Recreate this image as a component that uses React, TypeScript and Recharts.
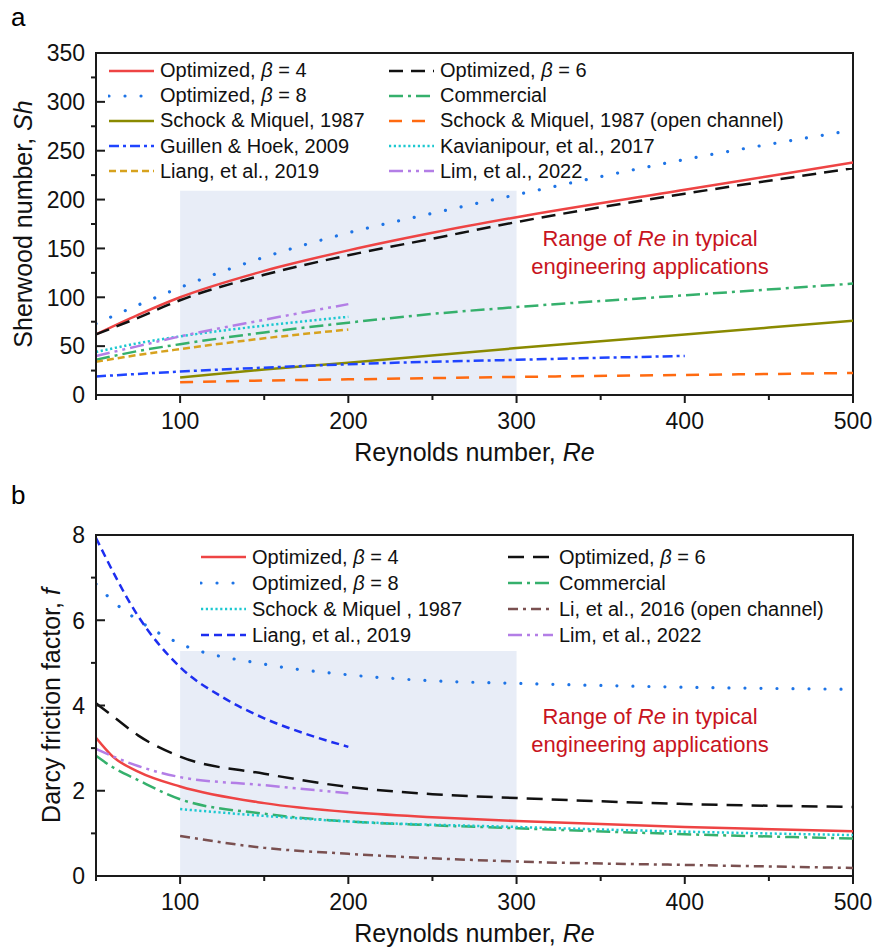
import React from "react";
import { LineChart, Line, XAxis, YAxis, ReferenceArea, Legend } from "recharts";

const FONT = '"Liberation Sans", Arial, sans-serif';
const AXIS = "#1a1a1a";

// ---- panel a: Sherwood number vs Re ----
const shReFull = [50, 75, 100, 150, 200, 250, 300, 400, 500];
const shOpt4 = [62, 82, 100, 127, 148, 166, 182, 210, 238];
const shOpt6 = [62, 79, 97, 123, 143, 160, 177, 206, 232];
const shOpt8 = [73, 92, 110, 141, 166, 186, 205, 241, 271];
const shCommercial = [36, 45, 52, 64, 74, 83, 90, 102, 114];
const shReSchock = [100, 150, 200, 300, 400, 500];
const shSchock = [18, 26, 33, 48, 62, 76];
const shSchockOpen = [13, 14.8, 16, 18.5, 20.5, 22.5];
const shReGuillen = [50, 100, 150, 200, 300, 400];
const shGuillen = [19, 24, 28, 31.5, 36, 40];
const shReShort = [50, 75, 100, 150, 200];
const shKavianipour = [44, 53, 60, 71, 80];
const shLiang = [34, 41, 47, 58, 67];
const shLim = [40, 50, 60, 77, 93];

// ---- panel b: Darcy friction factor vs Re ----
const fReFull = [50, 60, 75, 100, 150, 200, 250, 300, 400, 500];
const fOpt4 = [3.24, 2.8, 2.45, 2.1, 1.71, 1.5, 1.38, 1.29, 1.15, 1.05];
const fOpt6 = [4.05, 3.75, 3.3, 2.8, 2.4, 2.09, 1.92, 1.83, 1.69, 1.62];
const fOpt8 = [6.85, 6.45, 6.0, 5.45, 4.97, 4.72, 4.58, 4.52, 4.43, 4.38];
const fCommercial = [2.82, 2.55, 2.25, 1.8, 1.46, 1.28, 1.19, 1.12, 0.98, 0.88];
const fReLiang = [50, 75, 100, 125, 150, 175, 200];
const fLiang = [7.93, 6.1, 4.9, 4.2, 3.7, 3.33, 3.03];
const fReHigh = [100, 150, 200, 300, 400, 500];
const fSchock = [1.57, 1.41, 1.28, 1.15, 1.04, 0.96];
const fLi = [0.94, 0.66, 0.52, 0.34, 0.26, 0.19];
const fReLim = [50, 75, 100, 150, 200];
const fLim = [2.98, 2.58, 2.32, 2.13, 1.94];

const xTicks = [50, 100, 150, 200, 250, 300, 350, 400, 450, 500];
const shTicks = [0, 25, 50, 75, 100, 125, 150, 175, 200, 225, 250, 275, 300, 325, 350];
const fTicks = [0, 1, 2, 3, 4, 5, 6, 7, 8];

const pts = (xs: number[], ys: number[]) => xs.map((re, i) => ({ re, v: ys[i] }));

type Style = { color: string; dash?: string; w?: number; cap?: "round" | "butt" };
const S = {
  opt4: { color: "#ee4444" },
  opt6: { color: "#111111", dash: "14 8" },
  opt8: { color: "#1e74e6", dash: "0.01 16", w: 3.2, cap: "round" },
  commercial: { color: "#35b06c", dash: "14 5 3 5" },
  schock: { color: "#8a8a00" },
  schockOpen: { color: "#ff6a10", dash: "13 10" },
  guillen: { color: "#1f44ff", dash: "10 4 3 4" },
  kavi: { color: "#1cc8d0", dash: "2.2 2.6" },
  liang: { color: "#d7a21e", dash: "7 4" },
  lim: { color: "#b37ee6", dash: "14 5 3 5 3 5" },
  li: { color: "#7a5050", dash: "10 5 3 5" },
  liangF: { color: "#1d2ef0", dash: "8 5" },
  opt6F: { color: "#111111", dash: "16 9" },
} as Record<string, Style>;

function series(key: string, data: { re: number; v: number }[], st: Style) {
  return (
    <Line
      key={key}
      data={data}
      dataKey="v"
      type="monotone"
      stroke={st.color}
      strokeWidth={st.w ?? 2.5}
      strokeDasharray={st.dash}
      strokeLinecap={st.cap ?? "butt"}
      dot={false}
      activeDot={false}
      isAnimationActive={false}
    />
  );
}

const makeYTick = (isMajor: (v: number) => boolean) => (props: any) => {
  const { x, y, payload } = props;
  const v = payload.value;
  if (!isMajor(v)) return <line x1={x - 5} x2={x} y1={y} y2={y} stroke={AXIS} strokeWidth={2} />;
  return (
    <g>
      <line x1={x} x2={x + 9} y1={y} y2={y} stroke={AXIS} strokeWidth={2} />
      <text x={x - 11} y={y} dy="0.36em" textAnchor="end" fontSize={23} fontFamily={FONT} fill="#111">
        {v}
      </text>
    </g>
  );
};

const XTick = (props: any) => {
  const { x, y, payload } = props;
  const v = payload.value;
  const major = v % 100 === 0;
  return (
    <g>
      <line x1={x} x2={x} y1={y} y2={y + (major ? 8 : 5)} stroke={AXIS} strokeWidth={2} />
      {major && (
        <text x={x} y={y + 34} textAnchor="middle" fontSize={23} fontFamily={FONT} fill="#111">
          {v}
        </text>
      )}
    </g>
  );
};

const xTitle = (p: any) => {
  const vb = p.viewBox;
  return (
    <text x={vb.x + vb.width / 2} y={vb.y + 66} textAnchor="middle" fontSize={25} fontFamily={FONT} fill="#111">
      Reynolds number, <tspan fontStyle="italic">Re</tspan>
    </text>
  );
};

const yTitle = (text: string, sym: string, cx: number) => (p: any) => {
  const vb = p.viewBox;
  const cy = vb.y + vb.height / 2;
  return (
    <text
      x={cx}
      y={cy}
      transform={`rotate(-90 ${cx} ${cy})`}
      textAnchor="middle"
      fontSize={25}
      fontFamily={FONT}
      fill="#111"
    >
      {text}
      <tspan fontStyle="italic">{sym}</tspan>
    </text>
  );
};

type LItem = { label: React.ReactNode; st: Style };
const beta = (n: number) => (
  <>
    Optimized, <i>β</i> = {n}
  </>
);

const legendA: LItem[] = [
  { label: beta(4), st: S.opt4 },
  { label: beta(6), st: S.opt6 },
  { label: beta(8), st: S.opt8 },
  { label: "Commercial", st: S.commercial },
  { label: "Schock & Miquel, 1987", st: S.schock },
  { label: "Schock & Miquel, 1987 (open channel)", st: S.schockOpen },
  { label: "Guillen & Hoek, 2009", st: S.guillen },
  { label: "Kavianipour, et al., 2017", st: S.kavi },
  { label: "Liang, et al., 2019", st: S.liang },
  { label: "Lim, et al., 2022", st: S.lim },
];

const legendB: LItem[] = [
  { label: beta(4), st: S.opt4 },
  { label: beta(6), st: S.opt6F },
  { label: beta(8), st: S.opt8 },
  { label: "Commercial", st: S.commercial },
  { label: "Schock & Miquel , 1987", st: S.kavi },
  { label: "Li, et al., 2016 (open channel)", st: S.li },
  { label: "Liang, et al., 2019", st: S.liangF },
  { label: "Lim, et al., 2022", st: S.lim },
];

const LegendBox = ({ items, cols, rowH }: { items: LItem[]; cols: number[]; rowH: number }) => (
  <div style={{ position: "relative", fontFamily: FONT, fontSize: 20, color: "#111" }}>
    {items.map((it, i) => (
      <div
        key={i}
        style={{
          position: "absolute",
          left: cols[i % 2],
          top: Math.floor(i / 2) * rowH,
          height: rowH,
          display: "flex",
          alignItems: "center",
          whiteSpace: "nowrap",
        }}
      >
        <svg width={47} height={10} style={{ marginRight: 5 }}>
          <line
            x1={1}
            x2={46}
            y1={5}
            y2={5}
            stroke={it.st.color}
            strokeWidth={it.st.w ?? 2.5}
            strokeDasharray={it.st.dash}
            strokeLinecap={it.st.cap ?? "butt"}
          />
        </svg>
        <span>{it.label}</span>
      </div>
    ))}
  </div>
);

const note: React.CSSProperties = {
  position: "absolute",
  fontFamily: FONT,
  fontSize: 22,
  color: "#c8141e",
  textAlign: "center",
  lineHeight: "28px",
  width: 300,
};

export default function App() {
  return (
    <div style={{ position: "absolute", left: 0, top: 0, width: 875, height: 948, background: "#fff" }}>
      <div style={{ position: "absolute", left: 11, top: 2, fontFamily: FONT, fontSize: 26 }}>a</div>
      <div style={{ position: "absolute", left: 11, top: 480, fontFamily: FONT, fontSize: 26 }}>b</div>

      <div style={{ position: "absolute", left: 0, top: 0 }}>
        <LineChart width={875} height={470} margin={{ top: 53, right: 22, bottom: 35, left: 46 }}>
          <XAxis
            dataKey="re"
            type="number"
            domain={[50, 500]}
            ticks={xTicks}
            interval={0}
            allowDataOverflow
            height={40}
            tickSize={0}
            tickMargin={0}
            tick={XTick}
            axisLine={{ stroke: AXIS, strokeWidth: 2 }}
            label={{ content: xTitle }}
          />
          <YAxis
            type="number"
            domain={[0, 350]}
            ticks={shTicks}
            interval={0}
            allowDataOverflow
            width={50}
            tickSize={0}
            tickMargin={0}
            tick={makeYTick((v) => v % 50 === 0)}
            axisLine={{ stroke: AXIS, strokeWidth: 2 }}
            label={{ content: yTitle("Sherwood number, ", "Sh", 32) }}
          />
          {series("opt4", pts(shReFull, shOpt4), S.opt4)}
          {series("opt6", pts(shReFull, shOpt6), S.opt6)}
          {series("opt8", pts(shReFull, shOpt8), S.opt8)}
          {series("commercial", pts(shReFull, shCommercial), S.commercial)}
          {series("schock", pts(shReSchock, shSchock), S.schock)}
          {series("schockOpen", pts(shReSchock, shSchockOpen), S.schockOpen)}
          {series("guillen", pts(shReGuillen, shGuillen), S.guillen)}
          {series("kavi", pts(shReShort, shKavianipour), S.kavi)}
          {series("liang", pts(shReShort, shLiang), S.liang)}
          {series("lim", pts(shReShort, shLim), S.lim)}
          <ReferenceArea x1={100} x2={300} y1={0} y2={209} fill="#bdcce8" fillOpacity={0.35} stroke="none" />
          <ReferenceArea x1={50} x2={500} y1={0} y2={350} fill="none" stroke={AXIS} strokeWidth={2} />
          <Legend
            layout="horizontal"
            verticalAlign="middle"
            align="center"
            wrapperStyle={{ top: 58, left: 108, width: 740, height: 128 }}
            content={() => <LegendBox items={legendA} cols={[0, 280]} rowH={25.2} />}
          />
        </LineChart>
        <div style={{ ...note, left: 500, top: 225 }}>
          Range of <i>Re</i> in typical
          <br />
          engineering applications
        </div>
      </div>

      <div style={{ position: "absolute", left: 0, top: 470 }}>
        <LineChart width={875} height={478} margin={{ top: 65, right: 22, bottom: 32, left: 46 }}>
          <XAxis
            dataKey="re"
            type="number"
            domain={[50, 500]}
            ticks={xTicks}
            interval={0}
            allowDataOverflow
            height={40}
            tickSize={0}
            tickMargin={0}
            tick={XTick}
            axisLine={{ stroke: AXIS, strokeWidth: 2 }}
            label={{ content: xTitle }}
          />
          <YAxis
            type="number"
            domain={[0, 8]}
            ticks={fTicks}
            interval={0}
            allowDataOverflow
            width={50}
            tickSize={0}
            tickMargin={0}
            tick={makeYTick((v) => v % 2 === 0)}
            axisLine={{ stroke: AXIS, strokeWidth: 2 }}
            label={{ content: yTitle("Darcy friction factor, ", "f", 60) }}
          />
          {series("opt4", pts(fReFull, fOpt4), S.opt4)}
          {series("opt6", pts(fReFull, fOpt6), S.opt6F)}
          {series("opt8", pts(fReFull, fOpt8), S.opt8)}
          {series("commercial", pts(fReFull, fCommercial), S.commercial)}
          {series("schock", pts(fReHigh, fSchock), S.kavi)}
          {series("li", pts(fReHigh, fLi), S.li)}
          {series("liang", pts(fReLiang, fLiang), S.liangF)}
          {series("lim", pts(fReLim, fLim), S.lim)}
          <ReferenceArea x1={100} x2={300} y1={0} y2={5.28} fill="#bdcce8" fillOpacity={0.35} stroke="none" />
          <ReferenceArea x1={50} x2={500} y1={0} y2={8} fill="none" stroke={AXIS} strokeWidth={2} />
          <Legend
            layout="horizontal"
            verticalAlign="middle"
            align="center"
            wrapperStyle={{ top: 74, left: 200, width: 660, height: 108 }}
            content={() => <LegendBox items={legendB} cols={[0, 307]} rowH={26} />}
          />
        </LineChart>
        <div style={{ ...note, left: 500, top: 233 }}>
          Range of <i>Re</i> in typical
          <br />
          engineering applications
        </div>
      </div>
    </div>
  );
}
